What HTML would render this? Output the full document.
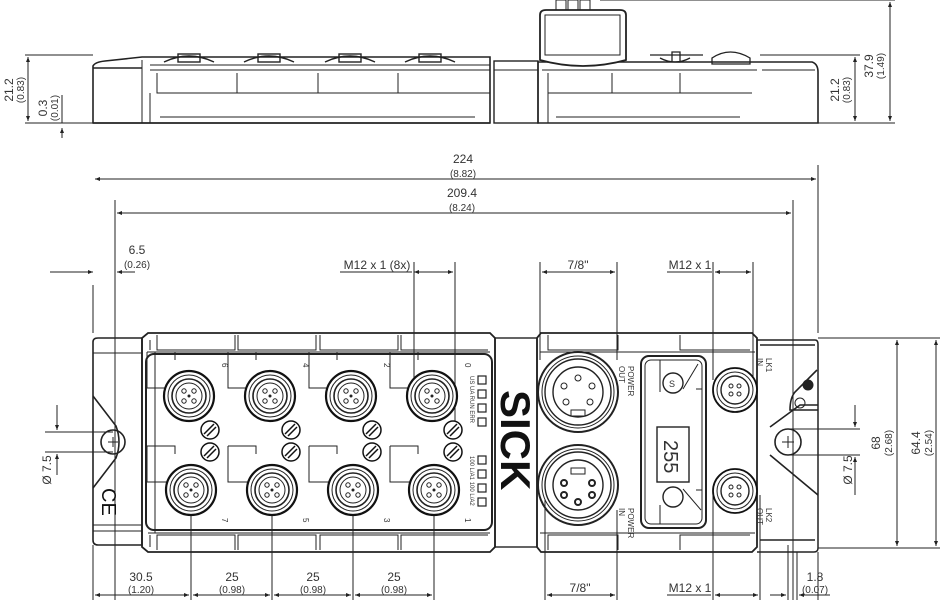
<!DOCTYPE html>
<html><head><meta charset="utf-8"><style>
html,body{margin:0;padding:0;background:#fff}
svg{display:block}
text{font-family:"Liberation Sans",sans-serif;fill:#333}
.d{font-size:12px}.s{font-size:10px}
</style></head><body>
<svg width="940" height="600" viewBox="0 0 940 600" xmlns="http://www.w3.org/2000/svg">
<defs>
<marker id="a" viewBox="0 0 10 10" refX="10" refY="5" markerWidth="7" markerHeight="5" orient="auto-start-reverse"><path d="M0,1 L10,5 L0,9 z" fill="#222"/></marker>
<g id="m12">
<circle r="25" fill="#fff" stroke="#111" stroke-width="2.2"/>
<circle r="21" fill="none" stroke="#222" stroke-width="1"/>
<circle r="17" fill="none" stroke="#222" stroke-width="1.6"/>
<circle r="13" fill="none" stroke="#222" stroke-width="1"/>
<circle cx="-5" cy="-5" r="2.2" fill="none" stroke="#222"/><circle cx="5" cy="-5" r="2.2" fill="none" stroke="#222"/>
<circle cx="-5" cy="5" r="2.2" fill="none" stroke="#222"/><circle cx="5" cy="5" r="2.2" fill="none" stroke="#222"/>
<circle r="1.5" fill="#222"/>
</g>
<g id="sm">
<circle r="22" fill="#fff" stroke="#111" stroke-width="1.8"/>
<circle r="18" fill="none" stroke="#222"/><circle r="14" fill="none" stroke="#222" stroke-width="1.4"/>
<circle cx="-4" cy="-4" r="2" fill="none" stroke="#222"/><circle cx="4" cy="-4" r="2" fill="none" stroke="#222"/>
<circle cx="-4" cy="4" r="2" fill="none" stroke="#222"/><circle cx="4" cy="4" r="2" fill="none" stroke="#222"/>
</g>
<g id="led"><circle r="9" fill="#fff" stroke="#111" stroke-width="1.5"/><path d="M-6,4 L4,-6 M-3,6 L6,-3" stroke="#111" stroke-width="1.5"/></g>
<g id="tab"><path d="M-40,-44 h28 v8 M-40,-44 v36 h30" fill="none" stroke="#222"/></g>
</defs>

<g stroke="#222" fill="none" stroke-width="1">
<!-- TOP VIEW -->
<path d="M93,123 V66 Q95,62 105,61 L142,57 H490 V123 Z" stroke-width="1.6"/>
<path d="M142,60 V123 M150,65 H490 M150,70 H490 M157,73 V93 H490 M237,73 V93 M318,73 V93 M398,73 V93 M150,93 V123 M160,117 H475" />
<path d="M93,68 H142 M93,123 H490" stroke-width="1.4"/>
<g stroke-width="1.4">
<path d="M164,62 q25,-12 50,0 M244,62 q25,-12 50,0 M325,62 q25,-12 50,0 M405,62 q25,-12 50,0"/>
<rect x="178" y="54" width="22" height="8"/><rect x="258" y="54" width="22" height="8"/><rect x="339" y="54" width="22" height="8"/><rect x="419" y="54" width="22" height="8"/>
</g>
<rect x="494" y="61" width="44" height="62" stroke-width="1.4"/><path d="M494,70 H538"/>
<path d="M538,123 V62 H760 L812,62 Q818,64 818,72 V123 Z" stroke-width="1.6"/>
<path d="M542,70 H757 M548,73 V93 H752 M612,73 V93 M680,73 V93 M548,93 V123 M556,117 H740 M762,70 H815"/>
<path d="M540,60 V15 Q540,10 546,10 H620 Q626,10 626,15 V60 Q583,72 540,60 Z" stroke-width="1.8" fill="#fff"/>
<path d="M545,15 H620 V55 H545 Z"/>
<rect x="556" y="0" width="10" height="10"/><rect x="568" y="0" width="10" height="10"/><rect x="580" y="0" width="10" height="10"/>
<path d="M650,55 H703 M660,58 q15,8 30,0 M672,52 h8 v10 h-8z M712,58 q18,-12 38,0 v6 h-38z" stroke-width="1.3"/>
<!-- top dims -->
<path d="M25,55 H93 M25,123 H93 M600,0 H895 M760,55 H860 M818,123 H895"/>
<path d="M28,57 V121" marker-start="url(#a)" marker-end="url(#a)"/>
<path d="M62,95 V123 M62,138 V128" marker-end="url(#a)"/>
<path d="M855,57 V121" marker-start="url(#a)" marker-end="url(#a)"/>
<path d="M890,2 V121" marker-start="url(#a)" marker-end="url(#a)"/>

<!-- MAIN VIEW body -->
<path d="M93,342 Q93,338 98,338 H142 V545 H98 Q93,545 93,540 Z" stroke-width="1.6"/>
<path d="M93,353 H142 M93,525 H142 M93,531 H142"/>
<path d="M93,396 L116,426 Q122,442 116,458 L93,488" stroke-width="1.6"/>
<circle cx="113" cy="442" r="12" stroke-width="1.6"/><path d="M108,442 h10 M113,437 v10"/>

<path d="M148,333 H490 L495,338 V547 L490,552 H148 L142,547 V338 Z" stroke-width="1.8"/>
<path d="M150,340 V350 M148,352 H490 M148,533 H490 M150,535 V547 M155,352 V533"/>
<rect x="146" y="354" width="346" height="176" rx="8" stroke-width="2"/>
<path d="M157,335 V350 H235 V335 M238,335 V350 H316 V335 M320,335 V350 H398 V335 M401,335 V350 H488"/>
<path d="M157,550 V535 H235 V550 M238,550 V535 H316 V550 M320,550 V535 H398 V550 M401,550 V535 H488"/>
<g stroke-width="1.2"><rect x="478" y="376" width="8" height="8"/><rect x="478" y="390" width="8" height="8"/><rect x="478" y="404" width="8" height="8"/><rect x="478" y="418" width="8" height="8"/>
<rect x="478" y="456" width="8" height="8"/><rect x="478" y="470" width="8" height="8"/><rect x="478" y="484" width="8" height="8"/><rect x="478" y="498" width="8" height="8"/></g>

<rect x="495" y="338" width="42" height="209" stroke-width="1.4"/>
<path d="M541,333 H752 L757,338 V547 L752,552 H541 L537,547 V338 Z" stroke-width="1.8"/>
<path d="M548,335 V350 H618 V335 M680,335 V350 H750 M548,550 V535 H618 V550 M680,550 V535 H750 M540,352 H755 M540,533 H755"/>
<rect x="641" y="356" width="65" height="172" rx="8" stroke-width="2"/>
<rect x="645" y="360" width="57" height="164" rx="6"/>
<rect x="657" y="427" width="32" height="55" stroke-width="1.4"/>
<circle cx="673" cy="383" r="10" stroke-width="1.4"/><circle cx="673" cy="497" r="10" stroke-width="1.4"/>
<path d="M660,360 V392 M698,364 L683,389 M683,489 L701,510 M660,505 V524 M696,389 h6 v8 M696,490 h6 v-8"/>
<circle cx="578" cy="392" r="40" stroke-width="2"/><circle cx="578" cy="392" r="36"/><circle cx="578" cy="392" r="33" stroke-width="1.4"/><circle cx="578" cy="392" r="25" stroke-width="1.4"/>
<circle cx="578" cy="378" r="3"/><circle cx="564" cy="386" r="3"/><circle cx="592" cy="386" r="3"/><circle cx="566" cy="402" r="3"/><circle cx="590" cy="402" r="3"/><rect x="571" y="410" width="14" height="6"/>
<circle cx="578" cy="485" r="40" stroke-width="2"/><circle cx="578" cy="485" r="36"/><circle cx="578" cy="485" r="33" stroke-width="1.4"/><circle cx="578" cy="485" r="25" stroke-width="1.4"/>
<g stroke-width="2"><circle cx="564" cy="483" r="3"/><circle cx="592" cy="483" r="3"/><circle cx="564" cy="495" r="3"/><circle cx="592" cy="495" r="3"/><circle cx="578" cy="502" r="3"/></g><rect x="571" y="468" width="14" height="6"/>
<path d="M757,340 H815 Q818,340 818,344 V548 Q818,552 814,552 H757" stroke-width="1.5"/>
<path d="M817,370 L795,392 Q790,398 790,410 L818,410 M770,427 L800,405 H818 M770,455 L818,495 M760,345 H815 M760,540 H815" stroke-width="1.6"/>
<circle cx="788" cy="442" r="13" stroke-width="1.6"/><path d="M782,442 h12 M788,436 v12"/>
<circle cx="800" cy="403" r="5"/><circle cx="808" cy="385" r="5" fill="#222"/>

<!-- dims main -->
<path d="M93,285 V333 M93,545 V600 M818,165 V333 M818,552 V600 M115,200 V600 M793,200 V600 M797,552 V600 M788,545 V600"/>
<path d="M95,179 H816" marker-start="url(#a)" marker-end="url(#a)"/>
<path d="M117,213 H791" marker-start="url(#a)" marker-end="url(#a)"/>
<path d="M50,272 H93" marker-end="url(#a)"/><path d="M135,272 H117" marker-end="url(#a)"/>
<path d="M340,272 H412" /><path d="M414,272 H453" marker-start="url(#a)" marker-end="url(#a)"/>
<path d="M414,262 V396 M455,262 V430 M540,262 V360 M617,262 V360 M713,262 V380 M753,262 V380"/>
<path d="M542,272 H615" marker-start="url(#a)" marker-end="url(#a)"/>
<path d="M667,272 H712"/><path d="M715,272 H751" marker-start="url(#a)" marker-end="url(#a)"/>
<path d="M191,490 V600 M272,490 V600 M353,490 V600 M434,490 V600 M545,500 V600 M617,510 V600 M713,495 V600 M760,495 V600"/>
<path d="M95,595 H189" marker-start="url(#a)" marker-end="url(#a)"/>
<path d="M193,595 H270" marker-start="url(#a)" marker-end="url(#a)"/>
<path d="M274,595 H351" marker-start="url(#a)" marker-end="url(#a)"/>
<path d="M355,595 H432" marker-start="url(#a)" marker-end="url(#a)"/>
<path d="M547,595 H615" marker-start="url(#a)" marker-end="url(#a)"/>
<path d="M667,595 H711"/><path d="M715,595 H758" marker-start="url(#a)" marker-end="url(#a)"/>
<path d="M770,595 H786" marker-end="url(#a)"/><path d="M830,595 H799" marker-end="url(#a)"/>
<path d="M45,432 H113 M45,452 H113"/>
<path d="M57,405 V430" marker-end="url(#a)"/><path d="M57,475 V454" marker-end="url(#a)"/>
<path d="M790,429 H860 M790,455 H860"/>
<path d="M855,405 V427" marker-end="url(#a)"/><path d="M855,495 V457" marker-end="url(#a)"/>
<path d="M818,338 H940 M818,548 H940"/>
<path d="M897,340 V546" marker-start="url(#a)" marker-end="url(#a)"/>
<path d="M936,340 V546" marker-start="url(#a)" marker-end="url(#a)"/>
</g>

<!-- connectors -->
<g>
<use href="#tab" x="187" y="396"/><use href="#tab" x="268" y="396"/><use href="#tab" x="349" y="396"/><use href="#tab" x="430" y="396"/>
<use href="#tab" x="187" y="490"/><use href="#tab" x="268" y="490"/><use href="#tab" x="349" y="490"/><use href="#tab" x="430" y="490"/>
<use href="#m12" x="189" y="396"/><use href="#m12" x="270" y="396"/><use href="#m12" x="351" y="396"/><use href="#m12" x="432" y="396"/>
<use href="#m12" x="191" y="490"/><use href="#m12" x="272" y="490"/><use href="#m12" x="353" y="490"/><use href="#m12" x="434" y="490"/>
<use href="#led" x="210" y="430"/><use href="#led" x="210" y="452"/><use href="#led" x="291" y="430"/><use href="#led" x="291" y="452"/>
<use href="#led" x="372" y="430"/><use href="#led" x="372" y="452"/><use href="#led" x="453" y="430"/><use href="#led" x="453" y="452"/>
<use href="#sm" x="735" y="390"/><use href="#sm" x="735" y="491"/>
</g>

<!-- labels -->
<text transform="translate(501,390) rotate(90)" style="font-size:42px;font-weight:bold;fill:#111">SICK</text>
<text transform="translate(102,488) rotate(90)" style="font-size:20px;fill:#111">CE</text>
<g class="s" style="font-size:8px">
<text transform="translate(222,363) rotate(90)">6</text><text transform="translate(303,363) rotate(90)">4</text><text transform="translate(384,363) rotate(90)">2</text><text transform="translate(465,363) rotate(90)">0</text>
<text transform="translate(222,518) rotate(90)">7</text><text transform="translate(303,518) rotate(90)">5</text><text transform="translate(384,518) rotate(90)">3</text><text transform="translate(465,518) rotate(90)">1</text>
<text transform="translate(470,376) rotate(90)" style="font-size:6px">US  UA  RUN ERR</text>
<text transform="translate(470,456) rotate(90)" style="font-size:6px">100 L/A1 100 L/A2</text>
<text transform="translate(628,366) rotate(90)">POWER</text><text transform="translate(619,366) rotate(90)">OUT</text>
<text transform="translate(628,508) rotate(90)">POWER</text><text transform="translate(619,508) rotate(90)">IN</text>
<text transform="translate(766,358) rotate(90)">LK1</text><text transform="translate(757,358) rotate(90)">IN</text>
<text transform="translate(766,508) rotate(90)">LK2</text><text transform="translate(757,508) rotate(90)">OUT</text>
</g>
<text transform="translate(664,440) rotate(90)" style="font-size:20px">255</text>
<text x="669" y="387" style="font-size:9px">S</text>

<g class="d" text-anchor="middle">
<text x="463" y="163">224</text><text x="463" y="177" class="s">(8.82)</text>
<text x="462" y="197">209.4</text><text x="462" y="211" class="s">(8.24)</text>
<text x="137" y="254">6.5</text><text x="137" y="268" class="s">(0.26)</text>
<text x="377" y="269">M12 x 1 (8x)</text>
<text x="578" y="269">7/8"</text>
<text x="690" y="269">M12 x 1</text>
<text x="141" y="581">30.5</text><text x="141" y="593" class="s">(1.20)</text>
<text x="232" y="581">25</text><text x="232" y="593" class="s">(0.98)</text>
<text x="313" y="581">25</text><text x="313" y="593" class="s">(0.98)</text>
<text x="394" y="581">25</text><text x="394" y="593" class="s">(0.98)</text>
<text x="580" y="592">7/8"</text>
<text x="690" y="592">M12 x 1</text>
<text x="815" y="581">1.8</text><text x="815" y="593" class="s">(0.07)</text>
</g>
<g class="d" text-anchor="middle">
<text transform="translate(13,90) rotate(-90)">21.2</text><text transform="translate(24,90) rotate(-90)" class="s">(0.83)</text>
<text transform="translate(47,108) rotate(-90)">0.3</text><text transform="translate(58,108) rotate(-90)" class="s">(0.01)</text>
<text transform="translate(839,90) rotate(-90)">21.2</text><text transform="translate(850,90) rotate(-90)" class="s">(0.83)</text>
<text transform="translate(873,66) rotate(-90)">37.9</text><text transform="translate(884,66) rotate(-90)" class="s">(1.49)</text>
<text transform="translate(51,470) rotate(-90)">Ø 7.5</text>
<text transform="translate(852,470) rotate(-90)">Ø 7.5</text>
<text transform="translate(880,443) rotate(-90)">68</text><text transform="translate(892,443) rotate(-90)" class="s">(2.68)</text>
<text transform="translate(920,443) rotate(-90)">64.4</text><text transform="translate(932,443) rotate(-90)" class="s">(2.54)</text>
</g>
</svg>
</body></html>
